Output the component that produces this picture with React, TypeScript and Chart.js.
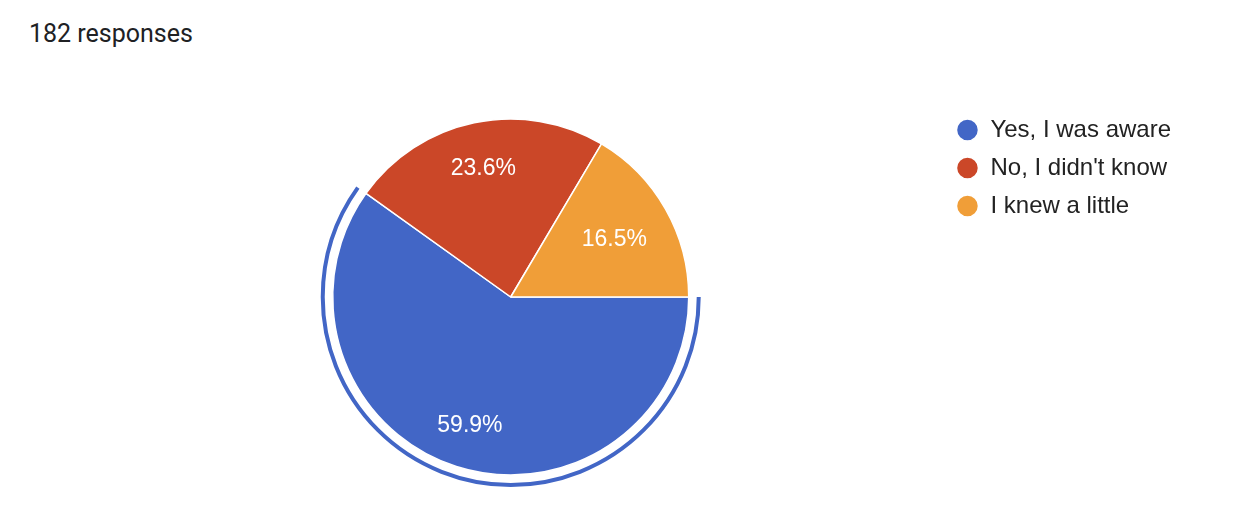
import React, { useEffect, useRef } from "react";
import { Chart, registerables } from "chart.js";

Chart.register(...registerables);

const TITLE = "182 responses";
const CATEGORIES = ["Yes, I was aware", "No, I didn't know", "I knew a little"];
const COUNTS = [109, 43, 30];
const COLORS = ["#4266C6", "#CB4728", "#F09E38"];
const LABEL_RADIUS = [0.75, 0.75, 0.67];
const HIGHLIGHT_INDEX = 0;

const sliceLabels = {
  id: "sliceLabels",
  afterDatasetsDraw(chart: any) {
    const meta = chart.getDatasetMeta(0);
    const data = chart.data.datasets[0].data as number[];
    const total = data.reduce((a, b) => a + b, 0);
    const ctx = chart.ctx;
    ctx.save();
    const hl = meta.data[HIGHLIGHT_INDEX] as any;
    if (hl) {
      ctx.beginPath();
      ctx.arc(hl.x, hl.y, hl.outerRadius + 10, hl.startAngle, hl.endAngle);
      ctx.strokeStyle = COLORS[HIGHLIGHT_INDEX];
      ctx.lineWidth = 4;
      ctx.stroke();
    }
    ctx.fillStyle = "#ffffff";
    ctx.font = "23px 'Liberation Sans', Arial, sans-serif";
    ctx.textAlign = "center";
    ctx.textBaseline = "middle";
    meta.data.forEach((arc: any, i: number) => {
      const mid = (arc.startAngle + arc.endAngle) / 2;
      const r = arc.outerRadius * LABEL_RADIUS[i];
      const x = arc.x + Math.cos(mid) * r;
      const y = arc.y + Math.sin(mid) * r + 2;
      const pct = ((data[i] / total) * 100).toFixed(1) + "%";
      ctx.fillText(pct, x, y);
    });
    ctx.restore();
  },
};

export default function App() {
  const ref = useRef<HTMLCanvasElement>(null);
  useEffect(() => {
    if (!ref.current) return;
    const chart = new Chart(ref.current, {
      type: "pie",
      data: {
        labels: CATEGORIES,
        datasets: [
          {
            data: COUNTS,
            backgroundColor: COLORS,
            borderColor: "#ffffff",
            borderWidth: 1.5,
          },
        ],
      },
      options: {
        responsive: false,
        animation: false,
        events: [],
        rotation: 90,
        radius: 178,
        layout: { padding: { top: 104, bottom: 42, left: 79, right: 63 } },
        plugins: {
          tooltip: { enabled: false },
          title: { display: false },
          legend: {
            position: "right",
            align: "start",
            labels: {
              usePointStyle: true,
              pointStyle: "circle",
              boxHeight: 15.56,
              pointStyleWidth: 22,
              padding: 14,
              color: "#222222",
              font: { size: 24, family: "'Liberation Sans', Arial, sans-serif" },
            },
          },
        },
      },
      plugins: [sliceLabels],
    });
    return () => chart.destroy();
  }, []);
  return (
    <div style={{ position: "fixed", left: 0, top: 0, width: 1244, height: 532, background: "#fff" }}>
      <div
        style={{
          position: "absolute",
          left: 29,
          top: 19,
          fontFamily: "Roboto, sans-serif",
          fontSize: 25,
          lineHeight: "30px",
          color: "#202124",
          whiteSpace: "nowrap",
        }}
      >
        {TITLE}
      </div>
      <canvas ref={ref} width={1244} height={532} style={{ position: "absolute", left: 0, top: 0 }} />
    </div>
  );
}
